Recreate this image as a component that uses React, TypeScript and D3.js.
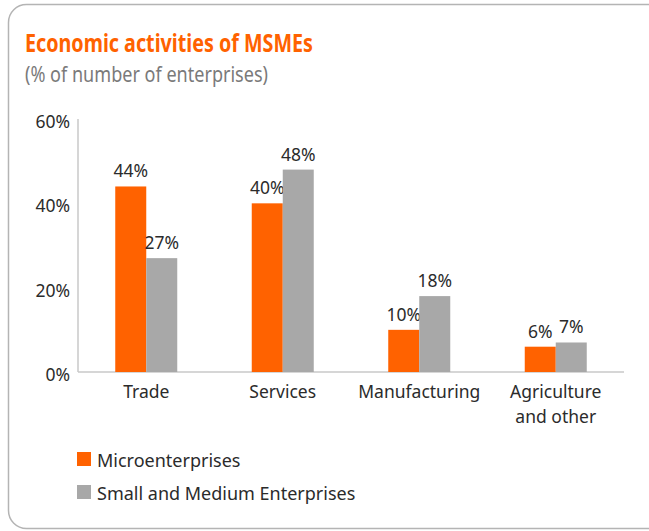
import { useRef, useEffect } from "react";
import * as d3 from "d3";

// chart data
const categories = ["Trade", "Services", "Manufacturing", "Agriculture\nand other"];
const microValues = [44, 40, 10, 6];
const smeValues = [27, 48, 18, 7];
const seriesNames = ["Microenterprises", "Small and Medium Enterprises"];
const yTicks = [0, 20, 40, 60];

const ORANGE = "#FF6200";
const GREY = "#A8A8A8";
const FONT = "'Noto Sans', sans-serif";
const TXT = "#2b2b2b";

const App: React.FC = () => {
  const svgRef = useRef<SVGSVGElement | null>(null);

  useEffect(() => {
    if (!svgRef.current) return;
    const svg = d3.select(svgRef.current);
    svg.selectAll("*").remove();

    const W = 649;
    const H = 531;

    // panel frame
    svg
      .append("rect")
      .attr("x", 8.5)
      .attr("y", 4.5)
      .attr("width", 680)
      .attr("height", 524)
      .attr("rx", 18)
      .attr("fill", "#fff")
      .attr("stroke", "#b4b4b4")
      .attr("stroke-width", 1.5);

    svg
      .append("text")
      .attr("x", 25)
      .attr("y", 52)
      .attr("font-family", FONT)
      .attr("font-size", 24.5)
      .attr("font-weight", "bold")
      .attr("fill", ORANGE)
      .attr("textLength", 288)
      .attr("lengthAdjust", "spacingAndGlyphs")
      .text("Economic activities of MSMEs");

    svg
      .append("text")
      .attr("x", 25)
      .attr("y", 82)
      .attr("font-family", FONT)
      .attr("font-size", 22)
      .attr("fill", "#7a7a7a")
      .attr("textLength", 243)
      .attr("lengthAdjust", "spacingAndGlyphs")
      .text("(% of number of enterprises)");

    const x0 = d3.scaleBand<string>().domain(categories).range([78, 624]);
    const bw = 31;
    const y = d3.scaleLinear().domain([0, 60]).range([372, 119]);

    // axes
    svg
      .append("line")
      .attr("x1", 78)
      .attr("x2", 78)
      .attr("y1", y(60))
      .attr("y2", y(0))
      .attr("stroke", "#c8c8c8")
      .attr("stroke-width", 1.5);
    svg
      .append("line")
      .attr("x1", 78)
      .attr("x2", 624)
      .attr("y1", y(0))
      .attr("y2", y(0))
      .attr("stroke", "#c8c8c8")
      .attr("stroke-width", 1.5);

    svg
      .append("g")
      .selectAll("text")
      .data(yTicks)
      .join("text")
      .attr("x", 70)
      .attr("y", (d) => y(d) + 9)
      .attr("text-anchor", "end")
      .attr("font-family", FONT)
      .attr("font-size", 17.5)
      .attr("fill", TXT)
      .text((d) => `${d}%`);

    const series = [microValues, smeValues];
    const colors = [ORANGE, GREY];

    categories.forEach((cat, i) => {
      const cx = (x0(cat) as number) + x0.bandwidth() / 2;
      series.forEach((vals, s) => {
        const bx = cx - bw + s * bw;
        svg
          .append("rect")
          .attr("x", bx)
          .attr("y", y(vals[i]))
          .attr("width", bw)
          .attr("height", y(0) - y(vals[i]))
          .attr("fill", colors[s]);
        svg
          .append("text")
          .attr("x", bx + bw / 2)
          .attr("y", y(vals[i]) - 9)
          .attr("text-anchor", "middle")
          .attr("font-family", FONT)
          .attr("font-size", 17.5)
          .attr("fill", TXT)
          .text(`${vals[i]}%`);
      });
      const lines = cat.split("\n");
      const t = svg
        .append("text")
        .attr("text-anchor", "middle")
        .attr("font-family", FONT)
        .attr("font-size", 17.5)
        .attr("fill", TXT);
      lines.forEach((ln, k) => {
        t.append("tspan")
          .attr("x", cx)
          .attr("y", 398 + k * 25)
          .text(ln);
      });
    });

    // legend
    seriesNames.forEach((name, s) => {
      const ly = 452 + s * 33;
      svg.append("rect").attr("x", 77).attr("y", ly).attr("width", 14).attr("height", 14).attr("fill", colors[s]);
      svg
        .append("text")
        .attr("x", 97)
        .attr("y", ly + 14.5)
        .attr("font-family", FONT)
        .attr("font-size", 18)
        .attr("fill", TXT)
        .text(name);
    });

    svg.attr("width", W).attr("height", H);
  }, []);

  return (
    <div style={{ position: "absolute", left: 0, top: 0, background: "#fff" }}>
      <svg ref={svgRef} style={{ display: "block" }}></svg>
    </div>
  );
};

export default App;
